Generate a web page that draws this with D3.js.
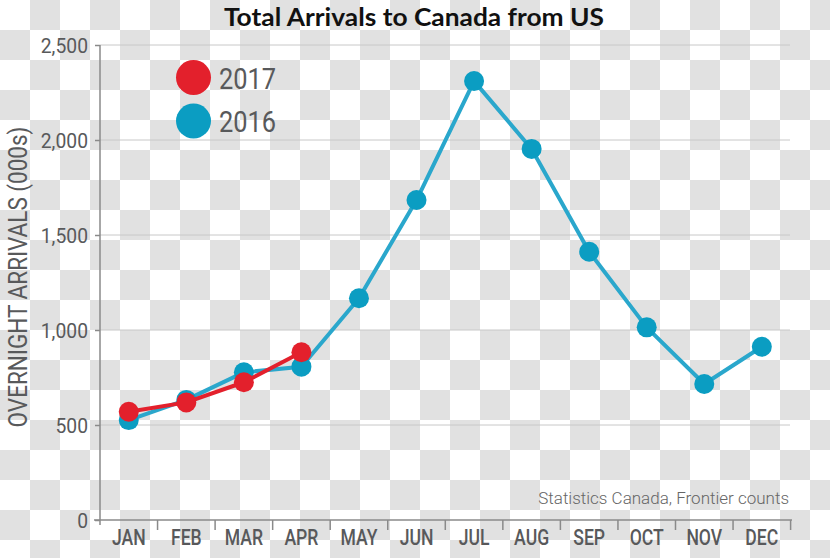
<!DOCTYPE html>
<html><head><meta charset="utf-8">
<script src="https://cdn.jsdelivr.net/npm/d3@7"></script>
<style>
html,body{margin:0;padding:0;background:#fff;}
svg{display:block;}
.cond{font-family:"Roboto",sans-serif;}
</style></head>
<body>
<svg id="chart" width="830" height="558"></svg>
<script>
const months = ["JAN","FEB","MAR","APR","MAY","JUN","JUL","AUG","SEP","OCT","NOV","DEC"];
const values2016 = [526, 632, 777, 807, 1167, 1684, 2310, 1953, 1412, 1014, 716, 912];
const values2017 = [570, 619, 725, 883];
const yTicks = [0, 500, 1000, 1500, 2000, 2500];
const seriesNames = ["2017", "2016"];
const titleText = "Total Arrivals to Canada from US";
const yTitle = "OVERNIGHT ARRIVALS (000s)";
const sourceText = "Statistics Canada, Frontier counts";

const W = 830, H = 558;
const red = "#e3202c", blueDot = "#0b9dc2", blueLine = "#2aa7cc";
const textGray = "#58595b";
const svg = d3.select("#chart");

// squeeze text horizontally to mimic a condensed face
function condense(sel, f) {
  sel.each(function() {
    const L = this.getComputedTextLength();
    d3.select(this).attr("textLength", L * f).attr("lengthAdjust", "spacingAndGlyphs");
  });
}

// checkerboard background (transparency pattern)
const defs = svg.append("defs");
const pat = defs.append("pattern").attr("id","chk").attr("width",60).attr("height",60).attr("patternUnits","userSpaceOnUse");
pat.append("rect").attr("width",60).attr("height",60).attr("fill","#ffffff");
pat.append("rect").attr("x",30).attr("y",0).attr("width",30).attr("height",30).attr("fill","#e1e1e1");
pat.append("rect").attr("x",0).attr("y",30).attr("width",30).attr("height",30).attr("fill","#e1e1e1");
svg.append("rect").attr("width",W).attr("height",H).attr("fill","url(#chk)");

const x = d3.scaleBand().domain(months).range([100, 790.6]).padding(0);
const y = d3.scaleLinear().domain([0, 2500]).range([520, 45]);
const cx = m => x(m) + x.bandwidth()/2;

// gridlines
svg.append("g").selectAll("line").data(yTicks.filter(d=>d>0)).join("line")
  .attr("x1",100).attr("x2",790).attr("y1",d=>y(d)).attr("y2",d=>y(d))
  .attr("stroke","#c8c8c8").attr("stroke-width",1);

// y axis
const yAxis = svg.append("g").attr("transform","translate(100,0)")
  .call(d3.axisLeft(y).tickValues(yTicks).tickSize(5).tickPadding(7).tickFormat(d3.format(",")));
yAxis.select(".domain").attr("stroke","#8a8a8a").attr("stroke-width",1.5).attr("d","M0,"+(y(2500))+"V525");
yAxis.selectAll(".tick line").attr("stroke","#8a8a8a").attr("stroke-width",1.5);
yAxis.selectAll(".tick text").attr("class","cond").attr("font-size",21).attr("fill",textGray).attr("dy","0.36em")
  .call(condense, 0.92);

// x axis
const xAxis = svg.append("g").attr("transform","translate(0,520)")
  .call(d3.axisBottom(x).tickSize(0));
xAxis.select(".domain").attr("stroke","#8a8a8a").attr("stroke-width",1.5).attr("d","M94,0H792");
xAxis.selectAll(".tick text").attr("class","cond").attr("font-size",22).attr("font-weight",500)
  .attr("fill",textGray).attr("y",25).attr("dy","0")
  .call(condense, 0.8);
const bounds = months.map(m => x(m)).concat([x(months[months.length-1]) + x.bandwidth()]).slice(1);
svg.append("g").selectAll("line").data(bounds).join("line")
  .attr("x1",d=>d).attr("x2",d=>d).attr("y1",520).attr("y2",530)
  .attr("stroke","#8a8a8a").attr("stroke-width",1.5);

// lines
const line = d3.line().x((d,i)=>cx(months[i])).y(d=>y(d));
svg.append("path").datum(values2016).attr("d",line).attr("fill","none")
  .attr("stroke",blueLine).attr("stroke-width",4).attr("stroke-linejoin","round");
svg.append("g").selectAll("circle").data(values2016).join("circle")
  .attr("cx",(d,i)=>cx(months[i])).attr("cy",d=>y(d)).attr("r",10).attr("fill",blueDot);
svg.append("path").datum(values2017).attr("d",line).attr("fill","none")
  .attr("stroke",red).attr("stroke-width",4).attr("stroke-linejoin","round");
svg.append("g").selectAll("circle").data(values2017).join("circle")
  .attr("cx",(d,i)=>cx(months[i])).attr("cy",d=>y(d)).attr("r",10).attr("fill",red);

// legend
const lg = svg.append("g");
const lgColors = [red, blueDot];
seriesNames.forEach((s,i)=>{
  lg.append("circle").attr("cx",193.5).attr("cy",77.5+i*43.5).attr("r",17.5).attr("fill",lgColors[i]);
  lg.append("text").attr("class","cond").attr("x",219).attr("y",88.5+i*43.5)
    .attr("font-size",29.5).attr("fill",textGray).text(s).call(condense, 0.86);
});

// title
svg.append("text").attr("x",414).attr("y",25.5).attr("text-anchor","middle")
  .attr("font-family","Lato, 'Open Sans', sans-serif").attr("font-weight",700)
  .attr("font-size",25).attr("fill","#111")
  .attr("textLength",380).attr("lengthAdjust","spacingAndGlyphs").text(titleText);

// y title
svg.append("text").attr("class","cond").attr("transform","translate(27,277) rotate(-90)")
  .attr("text-anchor","middle").attr("font-size",25).attr("fill",textGray).text(yTitle)
  .call(condense, 0.9);

// source
svg.append("text").attr("x",789).attr("y",504).attr("text-anchor","end")
  .attr("font-family","Roboto, sans-serif").attr("font-weight",300)
  .attr("font-size",17).attr("fill","#666").text(sourceText);
</script>
</body></html>
